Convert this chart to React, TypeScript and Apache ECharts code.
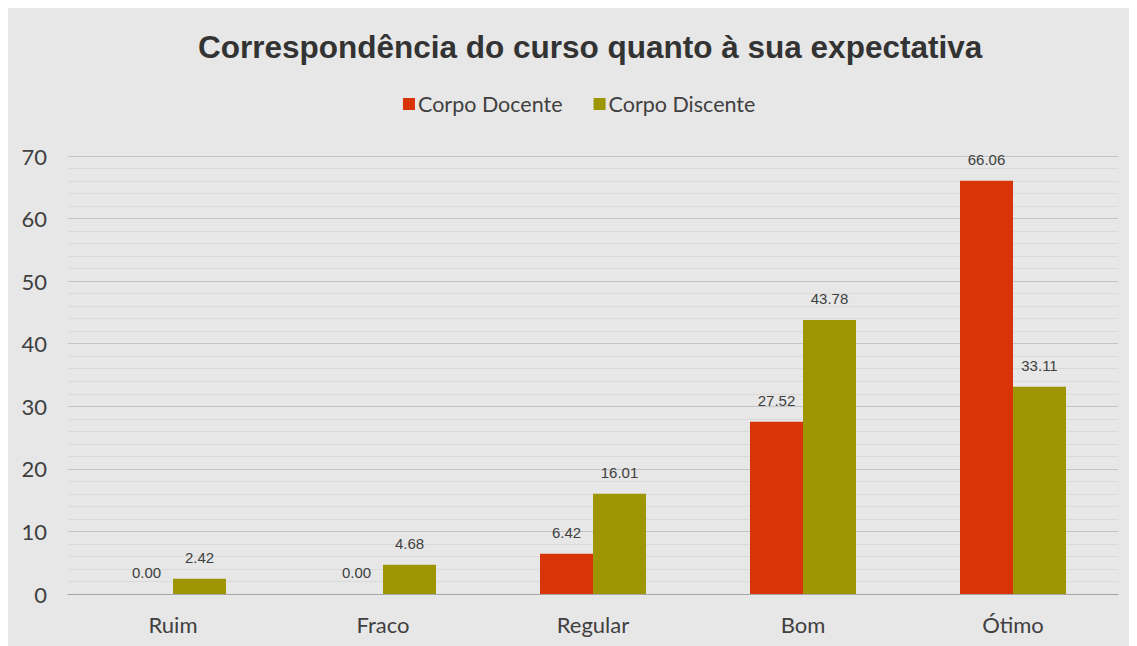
import React, { useEffect, useRef } from "react";
import * as echarts from "echarts";

const categories = ["Ruim", "Fraco", "Regular", "Bom", "Ótimo"];
const docente = [0.0, 0.0, 6.42, 27.52, 66.06];
const discente = [2.42, 4.68, 16.01, 43.78, 33.11];
const seriesNames = ["Corpo Docente", "Corpo Discente"];
const titleText = "Correspondência do curso quanto à sua expectativa";

export default function App() {
  const ref = useRef<HTMLDivElement>(null);
  useEffect(() => {
    if (!ref.current) return;
    const chart = echarts.init(ref.current, null, { renderer: "svg" });
    const labelCfg = {
      show: true,
      position: "top",
      distance: 14,
      color: "#404040",
      fontFamily: "'Liberation Sans', Arial, sans-serif",
      fontSize: 15,
      formatter: (p: any) => Number(p.value).toFixed(2),
    };
    chart.setOption({
      animation: false,
      backgroundColor: "#e7e7e7",
      title: {
        text: titleText,
        left: 185,
        top: 18,
        textStyle: {
          fontFamily: "'Liberation Sans', Arial, sans-serif",
          fontSize: 31.5,
          fontWeight: "bold",
          color: "#333333",
        },
      },
      legend: {
        top: 80,
        left: 390,
        itemWidth: 12,
        itemHeight: 12,
        itemGap: 31,
        icon: "rect",
        textStyle: {
          fontFamily: "Lato, 'Open Sans', sans-serif",
          fontSize: 21.5,
          color: "#404040",
          padding: [0, 0, 0, -2],
        },
        data: seriesNames,
      },
      grid: { left: 60, right: 19, top: 148, bottom: 52, containLabel: false },
      xAxis: {
        type: "category",
        data: categories,
        axisLine: { show: true, lineStyle: { color: "#a6a6a6", width: 1 } },
        axisTick: { show: false },
        axisLabel: {
          margin: 19,
          fontFamily: "Lato, 'Open Sans', sans-serif",
          fontSize: 22,
          color: "#404040",
        },
      },
      yAxis: {
        type: "value",
        min: 0,
        max: 70,
        interval: 10,
        axisLine: { show: false },
        axisTick: { show: false },
        axisLabel: {
          margin: 21,
          fontFamily: "Lato, 'Open Sans', sans-serif",
          fontSize: 22,
          color: "#404040",
        },
        splitLine: { show: true, lineStyle: { color: "#c4c4c4", width: 1 } },
        minorTick: { show: false, splitNumber: 5 },
        minorSplitLine: { show: true, lineStyle: { color: "#dadada", width: 1 } },
      },
      series: [
        {
          name: seriesNames[0],
          type: "bar",
          data: docente,
          barWidth: 53,
          barGap: "0%",
          itemStyle: { color: "#d83407" },
          label: labelCfg,
        },
        {
          name: seriesNames[1],
          type: "bar",
          data: discente,
          barWidth: 53,
          barGap: "0%",
          itemStyle: { color: "#9e9502" },
          label: labelCfg,
        },
      ],
    });
    return () => chart.dispose();
  }, []);
  return <div ref={ref} style={{ width: 1129, height: 638 }} />;
}
